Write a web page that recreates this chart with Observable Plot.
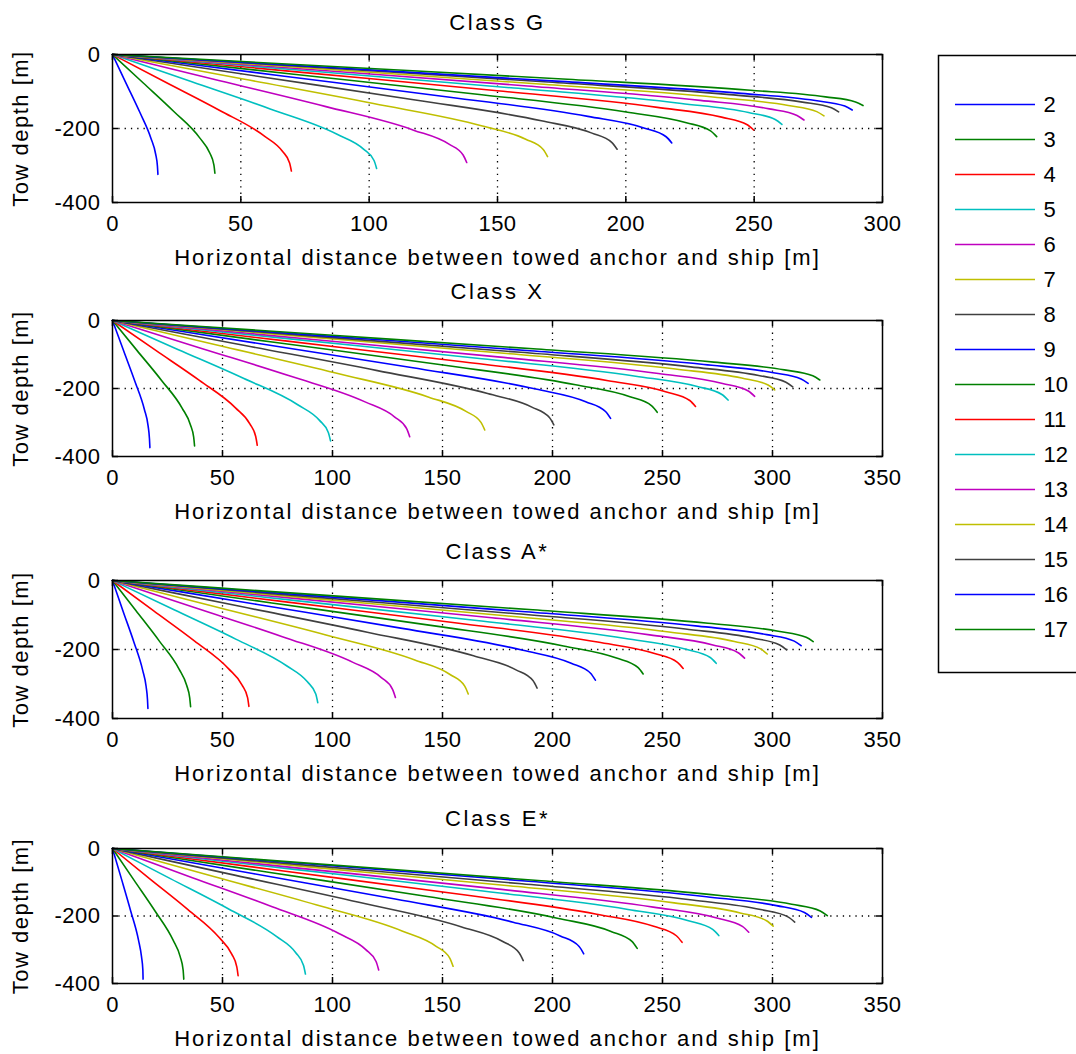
<!DOCTYPE html>
<html>
<head>
<meta charset="utf-8">
<script src="https://cdn.jsdelivr.net/npm/d3@7"></script>
<script src="https://cdn.jsdelivr.net/npm/@observablehq/plot@0.6"></script>
<style>
  html, body { margin: 0; padding: 0; background: #fff; }
  #fig { position: relative; width: 1076px; height: 1054px; overflow: hidden; background: #fff;
         font-family: "Liberation Sans", Arial, sans-serif; }
  #fig svg { position: absolute; left: 0; }
  #fig svg text { fill: #000; }
  .panel g[aria-label="x-axis label"] text { letter-spacing: 2px; }
  .panel g[aria-label="y-axis label"] text { letter-spacing: 1.5px; }
  .panel g[aria-label="x-axis tick label"] text,
  .panel g[aria-label="y-axis tick label"] text { letter-spacing: 0.5px; }
  .panel g[aria-label="text"] text { letter-spacing: 2.6px; }
</style>
</head>
<body>
<div id="fig"></div>
<script>
// ---- data ----
const speeds = [2, 3, 4, 5, 6, 7, 8, 9, 10, 11, 12, 13, 14, 15, 16, 17];
const palette = ["#0000FF", "#008000", "#FF0000", "#00BFBF", "#BF00BF", "#BFBF00", "#404040"];
const panelTitles = ["Class G", "Class X", "Class A*", "Class E*"];
const xMaxes = [300, 350, 350, 350];
const yTicks = [0, -200, -400];
const xLabel = "Horizontal distance between towed anchor and ship [m]";
const yLabel = "Tow depth [m]";

// each curve: [x, depth] points, one curve per speed (2..17)
const classG = [
  [[0,0],[5.3,-77.8],[10.6,-155.5],[15.0,-226.8],[16.8,-268.9],[17.5,-301.3],[17.7,-324]],
  [[0,0],[12.0,-77.0],[23.9,-154.1],[33.9,-224.7],[37.9,-266.4],[39.5,-298.5],[39.9,-321]],
  [[0,0],[20.9,-75.6],[41.8,-151.2],[59.2,-220.5],[66.2,-261.5],[69.0,-293.0],[69.7,-315]],
  [[0,0],[30.9,-73.9],[61.7,-147.8],[87.5,-215.6],[97.8,-255.6],[101.9,-286.4],[102.9,-308]],
  [[0,0],[41.4,-70.1],[82.8,-140.2],[117.3,-204.4],[131.1,-242.4],[136.6,-271.6],[138,-292]],
  [[0,0],[50.9,-66.2],[101.7,-132.5],[144.1,-193.2],[161.0,-229.1],[167.8,-256.7],[169.5,-276]],
  [[0,0],[59.0,-61.4],[118.0,-122.9],[167.1,-179.2],[186.8,-212.5],[194.6,-238.1],[196.6,-256]],
  [[0,0],[65.4,-57.4],[130.7,-114.7],[185.2,-167.3],[207.0,-198.4],[215.7,-222.3],[217.9,-239]],
  [[0,0],[70.6,-53.3],[141.2,-106.6],[200.1,-155.4],[223.6,-184.3],[233.0,-206.5],[235.4,-222]],
  [[0,0],[74.9,-49.0],[149.9,-97.9],[212.3,-142.8],[237.3,-169.3],[247.3,-189.7],[249.8,-204]],
  [[0,0],[78.2,-45.4],[156.5,-90.7],[221.7,-132.3],[247.8,-156.9],[258.2,-175.8],[260.8,-189]],
  [[0,0],[80.8,-42.5],[161.6,-85.0],[229.0,-123.9],[255.9,-146.9],[266.7,-164.6],[269.4,-177]],
  [[0,0],[83.2,-39.8],[166.3,-79.7],[235.6,-116.2],[263.3,-137.8],[274.4,-154.4],[277.2,-166]],
  [[0,0],[84.9,-37.2],[169.7,-74.4],[240.5,-108.5],[268.8,-128.7],[280.1,-144.2],[282.9,-155]],
  [[0,0],[86.5,-36.0],[172.9,-72.0],[245.0,-105.0],[273.8,-124.5],[285.3,-139.5],[288.2,-150]],
  [[0,0],[87.7,-33.1],[175.4,-66.2],[248.5,-96.6],[277.8,-114.5],[289.5,-128.3],[292.4,-138]]
];
const classX = [
  [[0,0],[5.1,-89.8],[10.2,-179.5],[14.5,-261.8],[16.2,-310.4],[16.8,-347.8],[17.0,-374]],
  [[0,0],[11.2,-88.6],[22.4,-177.1],[31.7,-258.3],[35.4,-306.3],[36.9,-343.2],[37.3,-369]],
  [[0,0],[19.7,-88.1],[39.5,-176.2],[55.9,-256.9],[62.5,-304.6],[65.1,-341.3],[65.8,-367]],
  [[0,0],[29.7,-85.0],[59.5,-169.9],[84.2,-247.8],[94.1,-293.8],[98.1,-329.2],[99.1,-354]],
  [[0,0],[40.5,-82.1],[81.1,-164.2],[114.8,-239.4],[128.3,-283.9],[133.7,-318.1],[135.1,-342]],
  [[0,0],[50.8,-77.3],[101.5,-154.6],[143.8,-225.4],[160.7,-267.3],[167.5,-299.5],[169.2,-322]],
  [[0,0],[60.2,-73.7],[120.4,-147.4],[170.5,-214.9],[190.6,-254.8],[198.6,-285.5],[200.6,-307]],
  [[0,0],[67.9,-69.1],[135.8,-138.2],[192.4,-201.6],[215.1,-239.0],[224.1,-267.8],[226.4,-288]],
  [[0,0],[74.3,-64.8],[148.6,-129.6],[210.5,-189.0],[235.2,-224.1],[245.1,-251.1],[247.6,-270]],
  [[0,0],[79.5,-60.7],[159.0,-121.4],[225.3,-177.1],[251.8,-210.0],[262.4,-235.3],[265.0,-253]],
  [[0,0],[83.9,-56.2],[167.9,-112.3],[237.8,-163.8],[265.8,-194.2],[277.0,-217.6],[279.8,-234]],
  [[0,0],[87.6,-53.5],[175.1,-107.0],[248.1,-156.1],[277.3,-185.1],[289.0,-207.4],[291.9,-223]],
  [[0,0],[90.3,-49.0],[180.6,-97.9],[255.9,-142.8],[286.0,-169.3],[298.0,-189.7],[301.0,-204]],
  [[0,0],[92.8,-46.8],[185.5,-93.6],[262.8,-136.5],[293.7,-161.9],[306.1,-181.4],[309.2,-195]],
  [[0,0],[94.9,-44.4],[189.7,-88.8],[268.8,-129.5],[300.4,-153.6],[313.0,-172.1],[316.2,-185]],
  [[0,0],[96.5,-42.0],[192.9,-84.0],[273.3,-122.5],[305.4,-145.3],[318.3,-162.8],[321.5,-175]]
];
const classA = [
  [[0,0],[4.8,-89.0],[9.7,-178.1],[13.7,-259.7],[15.3,-307.9],[15.9,-345.0],[16.1,-371]],
  [[0,0],[10.7,-87.8],[21.3,-175.7],[30.2,-256.2],[33.7,-303.8],[35.1,-340.4],[35.5,-366]],
  [[0,0],[18.6,-87.6],[37.2,-175.2],[52.7,-255.5],[58.9,-303.0],[61.4,-339.5],[62.0,-365]],
  [[0,0],[28.0,-85.0],[56.0,-169.9],[79.3,-247.8],[88.6,-293.8],[92.4,-329.2],[93.3,-354]],
  [[0,0],[38.6,-81.4],[77.2,-162.7],[109.3,-237.3],[122.2,-281.4],[127.3,-315.3],[128.6,-339]],
  [[0,0],[48.5,-79.0],[97.0,-157.9],[137.4,-230.3],[153.6,-273.1],[160.1,-306.0],[161.7,-329]],
  [[0,0],[57.9,-74.9],[115.8,-149.8],[164.1,-218.4],[183.4,-259.0],[191.1,-290.2],[193.0,-312]],
  [[0,0],[65.9,-69.4],[131.7,-138.7],[186.6,-202.3],[208.5,-239.9],[217.3,-268.8],[219.5,-289]],
  [[0,0],[72.4,-65.0],[144.7,-130.1],[205.0,-189.7],[229.1,-224.9],[238.8,-252.0],[241.2,-271]],
  [[0,0],[77.8,-61.2],[155.6,-122.4],[220.5,-178.5],[246.4,-211.7],[256.8,-237.2],[259.4,-255]],
  [[0,0],[82.3,-57.6],[164.6,-115.2],[233.2,-168.0],[260.7,-199.2],[271.7,-223.2],[274.4,-240]],
  [[0,0],[86.2,-54.0],[172.4,-108.0],[244.2,-157.5],[272.9,-186.8],[284.4,-209.3],[287.3,-225]],
  [[0,0],[89.3,-51.1],[178.6,-102.2],[253.0,-149.1],[282.7,-176.8],[294.6,-198.1],[297.6,-213]],
  [[0,0],[91.9,-48.2],[183.8,-96.5],[260.4,-140.7],[291.1,-166.8],[303.3,-186.9],[306.4,-201]],
  [[0,0],[93.9,-45.4],[187.8,-90.7],[266.1,-132.3],[297.4,-156.9],[309.9,-175.8],[313.0,-189]],
  [[0,0],[95.6,-42.5],[191.1,-85.0],[270.7,-123.9],[302.6,-146.9],[315.3,-164.6],[318.5,-177]]
];
const classE = [
  [[0,0],[4.2,-92.9],[8.3,-185.8],[11.8,-270.9],[13.2,-321.2],[13.8,-359.9],[13.9,-387]],
  [[0,0],[9.7,-92.9],[19.4,-185.8],[27.5,-270.9],[30.8,-321.2],[32.1,-359.9],[32.4,-387]],
  [[0,0],[17.1,-90.5],[34.3,-181.0],[48.5,-263.9],[54.2,-312.9],[56.5,-350.6],[57.1,-377]],
  [[0,0],[26.3,-89.3],[52.6,-178.6],[74.5,-260.4],[83.3,-308.8],[86.8,-346.0],[87.7,-372]],
  [[0,0],[36.3,-86.4],[72.6,-172.8],[102.9,-252.0],[115.0,-298.8],[119.8,-334.8],[121.0,-360]],
  [[0,0],[46.4,-83.8],[92.9,-167.5],[131.6,-244.3],[147.1,-289.7],[153.3,-324.6],[154.8,-349]],
  [[0,0],[56.0,-79.7],[112.0,-159.4],[158.7,-232.4],[177.4,-275.6],[184.8,-308.8],[186.7,-332]],
  [[0,0],[64.3,-74.9],[128.5,-149.8],[182.1,-218.4],[203.5,-259.0],[212.1,-290.2],[214.2,-312]],
  [[0,0],[71.6,-71.0],[143.1,-142.1],[202.7,-207.2],[226.6,-245.7],[236.1,-275.3],[238.5,-296]],
  [[0,0],[77.7,-66.7],[155.3,-133.4],[220.1,-194.6],[246.0,-230.7],[256.3,-258.5],[258.9,-278]],
  [[0,0],[82.7,-61.9],[165.4,-123.8],[234.3,-180.6],[261.8,-214.1],[272.8,-239.9],[275.6,-258]],
  [[0,0],[86.8,-59.5],[173.5,-119.0],[245.8,-173.6],[274.7,-205.8],[286.3,-230.6],[289.2,-248]],
  [[0,0],[90.1,-55.2],[180.2,-110.4],[255.3,-161.0],[285.3,-190.9],[297.3,-213.9],[300.3,-230]],
  [[0,0],[93.0,-52.3],[186.1,-104.6],[263.6,-152.6],[294.6,-180.9],[307.0,-202.7],[310.1,-218]],
  [[0,0],[95.3,-49.0],[190.6,-97.9],[270.0,-142.8],[301.8,-169.3],[314.5,-189.7],[317.7,-204]],
  [[0,0],[97.5,-47.8],[194.9,-95.5],[276.2,-139.3],[308.7,-165.2],[321.7,-185.1],[324.9,-199]]
];
const panelCurves = [classG, classX, classA, classE];

// ---- layout (pixels) ----
const frameTops = [54, 320, 580, 848];
const frameBottoms = [202, 456, 718, 983];
const titleDy = [-32, -29, -29, -30];
const W = 900, ML = 112, MR = 18, MT = 45, MB = 70;
const FONT = '"Liberation Sans", Arial, sans-serif';

const colorRange = speeds.map((s, i) => palette[i % palette.length]);
const fig = document.getElementById("fig");

panelCurves.forEach((curves, p) => {
  const xmax = xMaxes[p];
  const xTicks = d3.range(0, xmax + 1, 50);
  const innerX = xTicks.filter(d => d > 0 && d < xmax);
  const frameH = frameBottoms[p] - frameTops[p];
  const frameW = W - ML - MR;
  const rows = [];
  curves.forEach((pts, i) => pts.forEach(([x, y]) => rows.push({speed: speeds[i], x, y})));

  const svg = Plot.plot({
    width: W,
    height: MT + frameH + MB,
    marginLeft: ML, marginRight: MR, marginTop: MT, marginBottom: MB,
    className: "panel",
    style: {fontFamily: FONT, fontSize: "22px", background: "transparent", overflow: "visible", color: "#000"},
    x: {domain: [0, xmax]},
    y: {domain: [-400, 0]},
    color: {domain: speeds, range: colorRange},
    marks: [
      Plot.gridX(innerX, {stroke: "#000", strokeOpacity: 1, strokeWidth: 1.3, strokeDasharray: "1.3,5"}),
      Plot.gridY([-200], {stroke: "#000", strokeOpacity: 1, strokeWidth: 1.3, strokeDasharray: "1.3,5"}),
      Plot.line(rows, {x: "x", y: "y", z: "speed", stroke: "speed", strokeWidth: 1.6, curve: "monotone-x"}),
      Plot.tickX(xTicks, {x: d => d, stroke: "#000", strokeWidth: 1.5, insetTop: frameH - 6}),
      Plot.tickX(xTicks, {x: d => d, stroke: "#000", strokeWidth: 1.5, insetBottom: frameH - 6}),
      Plot.tickY(yTicks, {y: d => d, stroke: "#000", strokeWidth: 1.5, insetRight: frameW - 6}),
      Plot.tickY(yTicks, {y: d => d, stroke: "#000", strokeWidth: 1.5, insetLeft: frameW - 6}),
      Plot.axisX(xTicks, {tickSize: 0, tickPadding: 13, label: xLabel, labelAnchor: "center", labelArrow: "none", labelOffset: 62}),
      Plot.axisY(yTicks, {tickSize: 0, tickPadding: 12, tickFormat: d => String(d), label: yLabel, labelAnchor: "center", labelArrow: "none", labelOffset: 100}),
      Plot.frame({stroke: "#000", strokeWidth: 1.5}),
      Plot.text([panelTitles[p]], {frameAnchor: "top", dy: titleDy[p], lineAnchor: "middle", fontSize: 22})
    ]
  });
  svg.style.top = (frameTops[p] - MT) + "px";
  fig.appendChild(svg);
});

// legend
const legend = Plot.plot({
  width: 150, height: 617,
  margin: 0,
  className: "legend",
  style: {fontFamily: FONT, fontSize: "22px", background: "#fff", overflow: "visible", color: "#000"},
  y: {type: "point", domain: speeds, range: [27, 595], axis: null},
  color: {domain: speeds, range: colorRange},
  marks: [
    Plot.ruleY(speeds, {y: d => d, stroke: d => d, strokeWidth: 1.6, insetLeft: 17, insetRight: 53}),
    Plot.text(speeds, {y: d => d, text: d => String(d), frameAnchor: "left", dx: 105, textAnchor: "start"}),
    Plot.frame({stroke: "#000", strokeWidth: 1.5})
  ]
});
legend.style.left = "938px";
legend.style.top = "55px";
fig.appendChild(legend);
</script>
</body>
</html>
